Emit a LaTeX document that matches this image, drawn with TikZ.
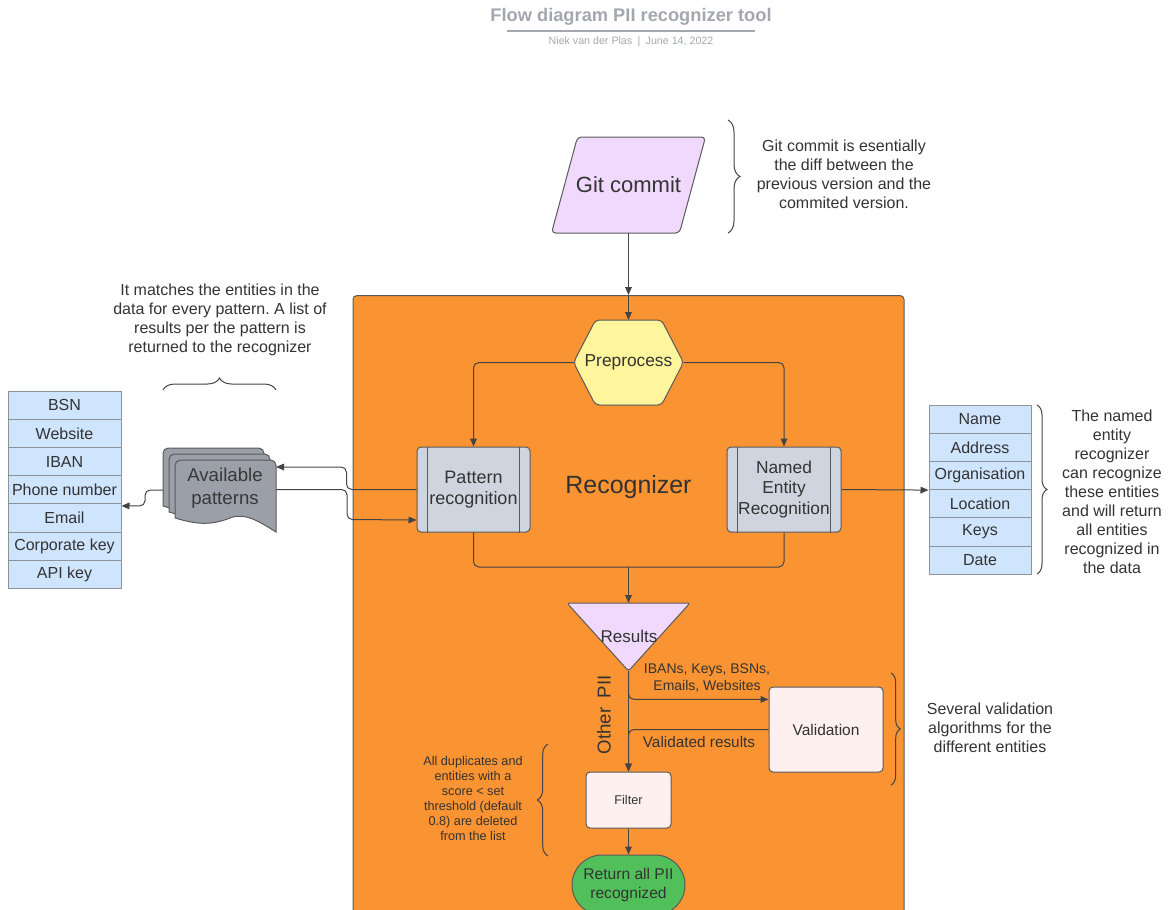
\documentclass[tikz,border=0pt]{standalone}
\usepackage{fontspec}
\setmainfont{Liberation Sans}
\usetikzlibrary{arrows.meta,calc,decorations.pathreplacing}
\frenchspacing

\definecolor{txt}{HTML}{333333}
\definecolor{wire}{HTML}{444444}
\definecolor{rim}{HTML}{5A5A5A}
\definecolor{cellrim}{HTML}{8E939A}
\definecolor{orng}{HTML}{FA9331}
\definecolor{lilac}{HTML}{F0D9FC}
\definecolor{lemon}{HTML}{FFF59D}
\definecolor{slate}{HTML}{CFD5DE}
\definecolor{docgray}{HTML}{9BA0A8}
\definecolor{skyb}{HTML}{CFE4FD}
\definecolor{blush}{HTML}{FDF0EF}
\definecolor{leaf}{HTML}{52C05A}
\definecolor{titleg}{HTML}{A3A7AE}

% one drawing unit = one pixel
\def\pxu{0.75pt}

% a document sheet with a wavy lower edge, top-left corner at (#1,#2)
\newcommand\docsheet[2]{%
  \draw[shapeline, fill=docgray]
    (#1,#2+58) [rounded corners=4pt] -- (#1,#2) -- (#1+101,#2) [sharp corners] -- (#1+101,#2+72)
    .. controls (#1+85,#2+62) and (#1+70,#2+52) .. (#1+55,#2+58)
    .. controls (#1+35,#2+66) and (#1+20,#2+64) .. (#1,#2+58) -- cycle;}

\tikzset{
  lab/.style={align=center, inner sep=0pt, text=txt},
  conn/.style={draw=wire, line width=0.75pt, rounded corners=4pt},
  arr/.style={conn, -{Triangle[length=6pt,width=5pt]}},
  shapeline/.style={draw=rim, line width=0.75pt},
  anchorbox/.style={inner sep=0pt, outer sep=0pt, minimum width=#1},
  rowcell/.style={draw=cellrim, fill=skyb, line width=0.75pt, minimum height=28.2*\pxu,
    inner sep=0pt, text=txt, font=\fontsize{12}{14}\selectfont},
  bracec/.style={draw=wire, line width=0.75pt, decorate, decoration={brace, amplitude=#1}},
}

\begin{document}
\begin{tikzpicture}[x=0.75pt,y=-0.75pt]
\useasboundingbox (0,0) rectangle (1168,910);
\clip (0,0) rectangle (1168,910);

% ---------- heading ----------
\node[text=titleg, font=\bfseries\fontsize{13.7}{16}\selectfont, inner sep=0pt] (title) at (631,17) {Flow diagram PII recognizer tool};
\draw[titleg, line width=1.5pt] (507,31) -- (755,31);
\node[text=titleg, font=\fontsize{8}{10}\selectfont, inner sep=0pt] (byline) at (631,42) {Niek van der Plas\enspace|\enspace June 14, 2022};

% ---------- recognizer container ----------
\node[shapeline, fill=orng, rounded corners=3pt, minimum width=551*\pxu, minimum height=700*\pxu,
      anchor=north, inner sep=0pt] (rec) at (628.5,295) {};
\node[lab, font=\fontsize{18.7}{22}\selectfont] (reclabel) at (628.5,487) {Recognizer};

% ---------- git commit ----------
\node[anchorbox=154*\pxu, minimum height=96*\pxu] (git) at (628.5,185) {};
\draw[shapeline, fill=lilac, rounded corners=3pt]
  ($(git.north west)+(26,0)$) -- (git.north east) -- ($(git.south east)+(-26,0)$) -- (git.south west) -- cycle;
\node[lab, font=\fontsize{16.5}{19}\selectfont] (gittext) at (git) {Git commit};
\draw[bracec=9pt] (728,120) -- (728,233);
\node[lab, font=\fontsize{12}{14.25}\selectfont] (gitnote) at (844,174) {Git commit is esentially\\the diff between the\\previous version and the\\commited version.};

% ---------- preprocess ----------
\node[anchorbox=110*\pxu, minimum height=85*\pxu] (prep) at (628.5,362.5) {};
\draw[shapeline, fill=lemon, rounded corners=3pt]
  (prep.west) -- ($(prep.north west)+(22,0)$) -- ($(prep.north east)+(-22,0)$) -- (prep.east)
  -- ($(prep.south east)+(-22,0)$) -- ($(prep.south west)+(22,0)$) -- cycle;
\node[lab, font=\fontsize{13}{15}\selectfont] (preptext) at (prep) {Preprocess};

\draw[arr] (git.south) -- (rec.north);
\draw[arr] (rec.north) -- (prep.north);

% ---------- recognition steps ----------
\node[shapeline, fill=slate, rounded corners=3pt, minimum width=113*\pxu, minimum height=85*\pxu,
      inner sep=0pt, align=center, text=txt, font=\fontsize{13.5}{15.5}\selectfont] (pr) at (473.5,489.5) {Pattern\\recognition};
\draw[shapeline] ($(pr.north west)+(11,0)$) -- ($(pr.south west)+(11,0)$);
\draw[shapeline] ($(pr.north east)+(-11,0)$) -- ($(pr.south east)+(-11,0)$);

\node[shapeline, fill=slate, rounded corners=3pt, minimum width=114*\pxu, minimum height=85*\pxu,
      inner sep=0pt, align=center, text=txt, font=\fontsize{13}{15.5}\selectfont] (ner) at (784,489.5) {Named\\Entity\\Recognition};
\draw[shapeline] ($(ner.north west)+(11,0)$) -- ($(ner.south west)+(11,0)$);
\draw[shapeline] ($(ner.north east)+(-11,0)$) -- ($(ner.south east)+(-11,0)$);

\draw[arr] (prep.west) -| (pr.north);
\draw[arr] (prep.east) -| (ner.north);

% ---------- results ----------
\node[anchorbox=123*\pxu, minimum height=68*\pxu] (res) at (628.5,637) {};
\draw[shapeline, fill=lilac, rounded corners=2pt] (res.north west) -- (res.north east) -- (res.south) -- cycle;
\node[lab, font=\fontsize{12.8}{15}\selectfont] (restext) at (629,636) {Results};

\coordinate (mg) at (628.5,567);
\draw[conn] (pr.south) |- (mg);
\draw[conn] (ner.south) |- (mg);
\draw[arr] (mg) -- (res.north);

% ---------- validation and filtering ----------
\node[shapeline, fill=blush, rounded corners=3pt, minimum width=114*\pxu, minimum height=85*\pxu,
      inner sep=0pt, text=txt, font=\fontsize{11.6}{14}\selectfont] (val) at (826,729.5) {Validation};
\node[shapeline, fill=blush, rounded corners=3pt, minimum width=85*\pxu, minimum height=56*\pxu,
      inner sep=0pt, text=txt, font=\fontsize{9.5}{11}\selectfont] (filter) at (628.5,800) {Filter};
\node[shapeline, fill=leaf, rounded corners=22.5pt, minimum width=113*\pxu, minimum height=60*\pxu,
      inner sep=0pt, align=center, text=txt, font=\fontsize{11.7}{14.25}\selectfont] (ret) at (628.5,885) {Return all PII\\recognized};

\draw[arr] (res.south) -- (filter.north);
\draw[arr] (res.south) |- ($(val.north west)!0.15!(val.south west)$);
\draw[arr] (val.west) -| (filter.north);
\draw[arr] (filter.south) -- (ret.north);

\node[lab, font=\fontsize{10.5}{12.75}\selectfont] (ibans) at (707,678.5) {IBANs, Keys, BSNs,\\Emails, Websites};
\node[lab, font=\fontsize{11.5}{14}\selectfont] (valres) at (699,742) {Validated results};
\node[lab, font=\fontsize{14}{16}\selectfont, rotate=90] (otherpii) at (604,715) {Other\hspace{7pt}PII};

\draw[bracec=7pt] (891,673) -- (891,785);
\node[lab, font=\fontsize{12}{14.25}\selectfont] (valnote) at (990,728) {Several validation\\algorithms for the\\different entities};

\draw[bracec=8pt] (548,856) -- (548,744);
\node[lab, font=\fontsize{9.5}{11.25}\selectfont] (filtnote) at (473,798.5) {All duplicates and\\entities with a\\score < set\\threshold (default\\0.8) are deleted\\from the list};

% ---------- available patterns ----------
\docsheet{163}{448}
\docsheet{169}{454}
\docsheet{175}{460}
\node[anchorbox=101*\pxu, minimum height=72*\pxu] (ap) at (225.5,496) {};
\node[lab, font=\fontsize{14}{17}\selectfont, text=black!78] (aptext) at (225,488) {Available\\patterns};

\draw[bracec=9pt] (163,390) -- (276,390);
\node[lab, font=\fontsize{12}{14.25}\selectfont] (apnote) at (220,319.5) {It matches the entities in the\\data for every pattern. A list of\\results per the pattern is\\returned to the recognizer};

% ---------- pattern list ----------
\foreach \name/\lbl [count=\i] in {l1/BSN, l2/Website, l3/IBAN, l4/Phone number, l5/Email, l6/Corporate key, l7/API key}
  \node[rowcell, minimum width=113*\pxu] (\name) at (64.5,{391+28.2*(\i-0.5)}) {\lbl};

% ---------- named entity list ----------
\foreach \name/\lbl [count=\i] in {n1/Name, n2/Address, n3/Organisation, n4/Location, n5/Keys, n6/Date}
  \node[rowcell, minimum width=102*\pxu] (\name) at (980,{405+28.2*(\i-0.5)}) {\lbl};

\draw[bracec=7.5pt] (1037,405) -- (1037,574);
\node[lab, font=\fontsize{12}{14.25}\selectfont] (nernote) at (1112,492) {The named\\entity\\recognizer\\can recognize\\these entities\\and will return\\all entities\\recognized in\\the data};

% ---------- connectors around the pattern step ----------
\draw[arr] (pr.west) -- ++(-70,0) -- ++(0,-22.5) -- ($(ap.north east)+(0,7)$);
\draw[arr] ($(ap.east)+(0,-6.5)$) -- ++(71,0) -- ++(0,30) -- ($(pr.west)+(0,30.5)$);
\draw[arr] ($(ap.west)+(-12,-6)$) -- ++(-18,0) -- ++(0,16) -- ($(l5.east)+(0,-12)$);
\draw[arr] (ner.east) -- (n3.south west);

\end{tikzpicture}
\end{document}
